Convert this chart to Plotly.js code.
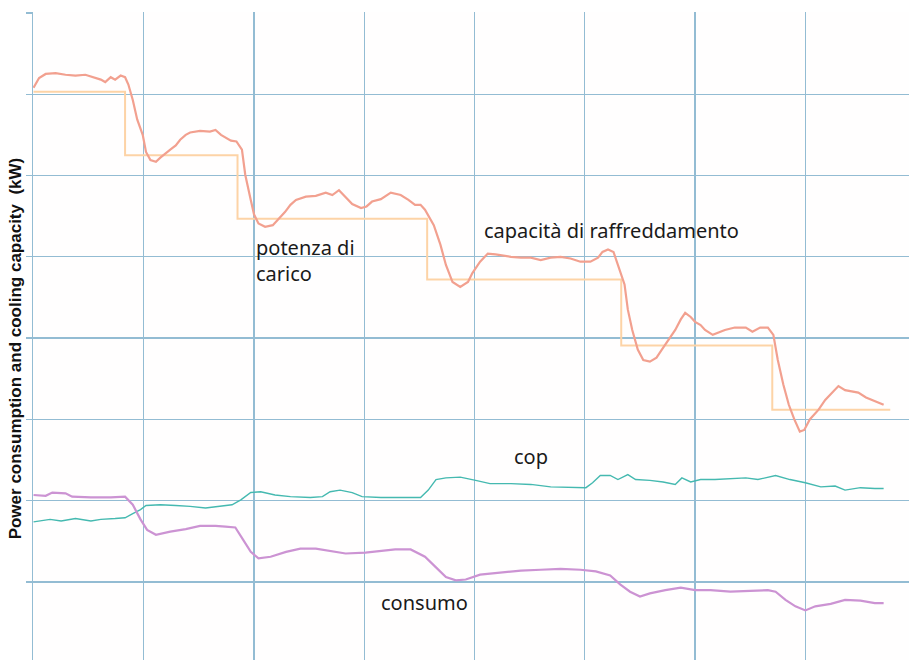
<!DOCTYPE html>
<html>
<head>
<meta charset="utf-8">
<script src="https://cdn.plot.ly/plotly-3.0.1.min.js"></script>
<style>html,body{margin:0;padding:0;background:#fff;}#chart{width:909px;height:660px;}</style>
</head>
<body>
<div id="chart"></div>
<script>
// time in minutes (10 per grid division), values in kW (1 per grid division)
var capX = [0,0.5,1.1,2,2.9,3.8,4.7,5.6,6.1,6.5,
            7,7.4,7.9,8.3,8.6,9,9.4,9.9,10.2,10.6,
            11.1,11.5,12,12.4,12.9,13.3,13.8,14.2,15.1,16,
            16.5,17,17.9,18.4,18.9,19.2,19.7,20,20.4,21,
            21.7,22.2,22.8,23.3,23.8,24.7,25.6,26.5,27.1,27.7,
            28.3,28.9,29.7,30.2,30.7,31.5,32.4,33.3,34,34.6,
            35.1,35.5,36.3,36.9,37.4,38,38.7,39.4,39.8,40.5,
            41.2,41.9,43.3,44.2,45.1,46,46.9,47.8,48.7,49.6,
            50.5,51.2,51.6,52.1,52.6,53,53.6,53.9,54.3,54.8,
            55.3,55.9,56.5,57,57.6,58.2,58.7,59.1,59.6,60,
            60.5,60.9,61.6,62.1,62.7,63.6,64.6,65.2,65.9,66.6,
            67.1,67.5,68,68.5,69,69.5,69.9,70.4,71.2,71.8,
            72.4,73,73.6,74.3,74.8,75.5,76.3,77.1];
var capY = [7.08,7.20,7.25,7.26,7.24,7.23,7.24,7.20,7.18,7.15,
            7.21,7.18,7.23,7.21,7.12,6.93,6.69,6.50,6.29,6.19,
            6.17,6.22,6.28,6.32,6.37,6.44,6.50,6.53,6.55,6.54,
            6.56,6.50,6.43,6.42,6.32,6.01,5.70,5.52,5.41,5.37,
            5.39,5.46,5.55,5.64,5.70,5.74,5.75,5.79,5.76,5.82,
            5.73,5.65,5.60,5.62,5.68,5.71,5.79,5.76,5.70,5.64,
            5.64,5.58,5.39,5.15,4.90,4.69,4.63,4.69,4.80,4.94,
            5.04,5.03,5.00,4.99,4.99,4.96,4.99,5.00,4.98,4.94,
            4.94,4.99,5.06,5.09,5.06,4.90,4.66,4.35,4.10,3.86,
            3.73,3.71,3.76,3.86,3.98,4.10,4.23,4.31,4.26,4.20,
            4.16,4.10,4.04,4.07,4.10,4.13,4.13,4.08,4.13,4.13,
            4.04,3.73,3.43,3.18,3.00,2.85,2.87,3.00,3.12,3.24,
            3.33,3.41,3.36,3.34,3.33,3.27,3.22,3.18];

var loadX = [0,8.3,18.5,35.7,53.3,67.0,77.7];
var loadY = [7.03,6.25,5.47,4.72,3.91,3.12,3.12];

var copX = [0,1.5,2.5,3.8,5.2,6.1,7.4,8.3,9,9.7,
            10.2,11.5,12.9,14.2,15.6,17,18,18.8,19.7,20.6,
            21.9,23.3,25.1,26.2,26.9,27.8,28.9,29.8,31.5,33.3,
            35.1,35.8,36.5,37.4,38.7,40.1,41.4,43.3,45.1,46.9,
            48.7,50.1,50.7,51.4,52.3,53,53.9,54.6,55.9,57.1,
            58.2,58.8,59.6,60.5,61.8,63.2,64.6,65.7,67.3,68.6,
            70,71.4,72.7,73.6,75,76.3,77.1];
var copY = [1.74,1.77,1.75,1.78,1.75,1.77,1.78,1.79,1.84,1.89,
            1.94,1.95,1.94,1.93,1.91,1.93,1.95,2.01,2.10,2.11,
            2.07,2.05,2.04,2.05,2.11,2.13,2.10,2.05,2.04,2.04,
            2.04,2.13,2.26,2.28,2.29,2.25,2.21,2.21,2.20,2.17,
            2.16,2.16,2.22,2.31,2.31,2.26,2.32,2.26,2.25,2.23,
            2.20,2.28,2.23,2.26,2.26,2.27,2.28,2.26,2.31,2.26,
            2.22,2.17,2.18,2.13,2.16,2.15,2.15];

var conX = [0,1.1,1.7,2.9,3.5,5.2,7,8.3,9,9.7,
            10.3,11.1,12.4,13.8,15.1,16.5,17.4,18.3,19,19.7,
            20.4,21.5,22.9,24.2,25.6,26.9,28.3,30.1,31.5,32.8,
            34.2,35.5,36.5,37.4,38.3,39.2,40.5,42.3,44.2,46,
            47.8,49.6,51,52.3,53.2,54.1,55,55.9,57.3,58.7,
            60,61.4,63.2,65,66.6,67.3,68.2,69.1,70,70.9,
            72.3,73.6,75,76.3,77.1];
var conY = [2.07,2.06,2.10,2.09,2.05,2.04,2.04,2.05,1.95,1.77,
            1.64,1.58,1.62,1.65,1.69,1.69,1.68,1.67,1.52,1.37,
            1.29,1.31,1.37,1.41,1.41,1.38,1.35,1.36,1.38,1.40,
            1.40,1.31,1.18,1.06,1.02,1.03,1.09,1.11,1.14,1.15,
            1.16,1.15,1.13,1.08,0.97,0.88,0.82,0.86,0.90,0.93,
            0.90,0.90,0.88,0.89,0.90,0.88,0.78,0.70,0.65,0.70,
            0.73,0.78,0.77,0.74,0.74];

var labels = {
  load: 'potenza di<br>carico',
  cap: 'capacità di raffreddamento',
  cop: 'cop',
  con: 'consumo',
  ytitle: 'Power consumption and cooling capacity  (kW)'
};

var grid = '#93bcd3';
var traces = [
  {x: loadX, y: loadY, mode: 'lines', line: {shape: 'hv', color: '#fdd3a6', width: 2}, hoverinfo: 'skip'},
  {x: capX, y: capY, mode: 'lines', line: {color: '#f2a08f', width: 2.2}, hoverinfo: 'skip'},
  {x: copX, y: copY, mode: 'lines', line: {color: '#45b9b0', width: 1.4}, hoverinfo: 'skip'},
  {x: conX, y: conY, mode: 'lines', line: {color: '#cc93d3', width: 2.2}, hoverinfo: 'skip'}
];

var annFont = {family: 'Noto Sans, Open Sans, sans-serif', size: 20, color: '#1a1a1a'};
var layout = {
  width: 909, height: 660,
  margin: {l: 33, r: 0, t: 12, b: 0},
  paper_bgcolor: '#ffffff', plot_bgcolor: '#fffefe',
  showlegend: false,
  xaxis: {range: [-0.05, 79.4], dtick: 10, tick0: 0, showgrid: true, gridcolor: grid, gridwidth: 1.3,
          zeroline: false, showticklabels: false, ticks: '', showline: false, fixedrange: true},
  yaxis: {range: [0.04, 8.012], dtick: 1, tick0: 0, showgrid: true, gridcolor: grid, gridwidth: 1.3,
          zeroline: false, showticklabels: false, ticks: 'outside', ticklen: 6, tickcolor: grid, tickwidth: 1.3,
          showline: true, linecolor: grid, linewidth: 1.3, fixedrange: true},
  annotations: [
    {x: 19.95, y: 5.3, xref: 'x', yref: 'y', text: labels.load, showarrow: false, xanchor: 'left', yanchor: 'top', align: 'left', font: annFont},
    {x: 40.7, y: 5.33, xref: 'x', yref: 'y', text: labels.cap, showarrow: false, xanchor: 'left', yanchor: 'middle', font: annFont},
    {x: 43.4, y: 2.54, xref: 'x', yref: 'y', text: labels.cop, showarrow: false, xanchor: 'left', yanchor: 'middle', font: annFont},
    {x: 31.3, y: 0.744, xref: 'x', yref: 'y', text: labels.con, showarrow: false, xanchor: 'left', yanchor: 'middle', font: annFont},
    {x: -0.0205, y: 0.481, xref: 'paper', yref: 'paper', text: '<b>' + labels.ytitle + '</b>', textangle: -90, showarrow: false,
     xanchor: 'center', yanchor: 'middle', font: {family: 'Liberation Sans, Arial, sans-serif', size: 17, color: '#111'}}
  ]
};

Plotly.newPlot('chart', traces, layout, {staticPlot: true, displayModeBar: false});
</script>
</body>
</html>
